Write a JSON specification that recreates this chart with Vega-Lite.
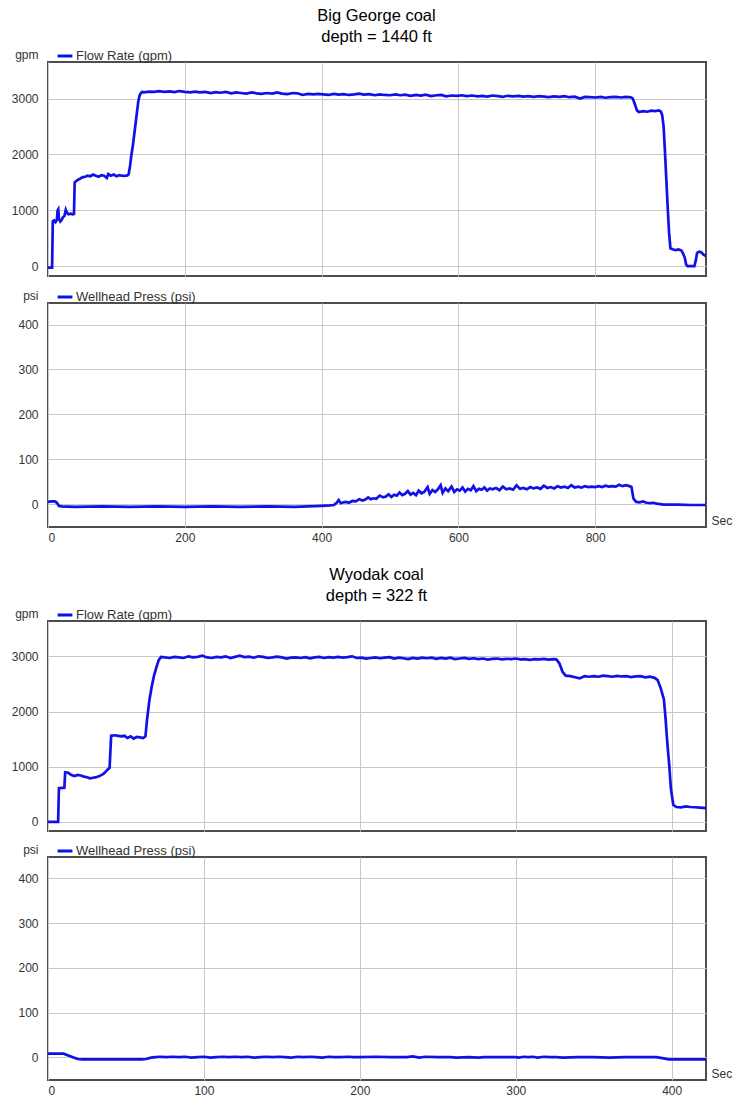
{
  "$schema": "https://vega.github.io/schema/vega-lite/v6.json",
  "padding": {"left": 10, "top": 7, "right": 0, "bottom": 0},
  "background": "white",
  "config": {
    "font": "Liberation Sans",
    "view": {"stroke": "#4d4d4d", "strokeWidth": 2},
    "axis": {
      "labelFont": "Liberation Sans", "labelFontSize": 12, "labelColor": "#333333", "format": "d",
      "gridColor": "#c8c8c8", "gridWidth": 1, "domain": false, "ticks": false,
      "titleFont": "Liberation Sans", "titleFontWeight": "normal", "titleColor": "#333333", "titleFontSize": 12
    },
    "legend": {
      "orient": "none", "padding": 0, "symbolType": "stroke", "symbolStrokeWidth": 3,
      "symbolSize": 220, "labelFont": "Liberation Sans", "labelFontSize": 13, "labelColor": "#333333",
      "labelOffset": 2, "title": null
    },
    "title": {"font": "Liberation Sans", "fontSize": 16.5, "fontWeight": "normal", "color": "#000000", "anchor": "middle", "lineHeight": 21, "offset": 1, "dx": 5}
  },
  "datasets": {
    "bg_flow": [
      {"t":0,"v":-25},{"t":6,"v":-25},{"t":7,"v":800},{"t":9,"v":820},{"t":11,"v":790},{"t":13,"v":830},{"t":14,"v":1000},{"t":15,"v":1020},{"t":16,"v":850},{"t":18,"v":800},{"t":20,"v":830},{"t":22,"v":880},{"t":24,"v":900},{"t":26,"v":1010},{"t":28,"v":950},{"t":30,"v":930},{"t":33,"v":940},{"t":36,"v":930},{"t":38,"v":935},{"t":39,"v":1500},{"t":41,"v":1520},{"t":43,"v":1540},{"t":46,"v":1560},{"t":50,"v":1590},{"t":54,"v":1600},{"t":58,"v":1620},{"t":62,"v":1610},{"t":66,"v":1640},{"t":70,"v":1620},{"t":74,"v":1600},{"t":78,"v":1630},{"t":82,"v":1620},{"t":86,"v":1580},{"t":88,"v":1650},{"t":92,"v":1620},{"t":96,"v":1640},{"t":100,"v":1610},{"t":104,"v":1630},{"t":108,"v":1620},{"t":112,"v":1615},{"t":116,"v":1625},{"t":118,"v":1650},{"t":120,"v":1800},{"t":122,"v":2000},{"t":124,"v":2150},{"t":126,"v":2350},{"t":128,"v":2550},{"t":130,"v":2750},{"t":132,"v":2950},{"t":134,"v":3060},{"t":136,"v":3100},{"t":138,"v":3120},
      {"t":140,"v":3110},{"t":148,"v":3125},{"t":155,"v":3120},{"t":162,"v":3135},{"t":170,"v":3120},{"t":178,"v":3130},{"t":185,"v":3115},{"t":192,"v":3135},{"t":200,"v":3120},{"t":208,"v":3110},{"t":215,"v":3125},{"t":222,"v":3110},{"t":230,"v":3120},{"t":238,"v":3100},{"t":245,"v":3115},{"t":252,"v":3105},{"t":260,"v":3120},{"t":268,"v":3095},{"t":275,"v":3110},{"t":282,"v":3100},{"t":290,"v":3090},{"t":298,"v":3110},{"t":305,"v":3095},{"t":312,"v":3085},{"t":320,"v":3100},{"t":328,"v":3090},{"t":335,"v":3110},{"t":342,"v":3090},{"t":350,"v":3080},{"t":358,"v":3100},{"t":365,"v":3095},{"t":372,"v":3065},{"t":380,"v":3085},{"t":388,"v":3075},{"t":395,"v":3085},{"t":402,"v":3075},{"t":410,"v":3065},{"t":418,"v":3085},{"t":425,"v":3070},{"t":432,"v":3080},{"t":440,"v":3065},{"t":448,"v":3075},{"t":455,"v":3090},{"t":462,"v":3070},{"t":470,"v":3080},{"t":478,"v":3060},{"t":485,"v":3075},{"t":492,"v":3065},{"t":500,"v":3060},{"t":508,"v":3075},{"t":515,"v":3060},{"t":522,"v":3070},{"t":530,"v":3050},{"t":538,"v":3065},{"t":545,"v":3055},{"t":552,"v":3070},{"t":560,"v":3045},{"t":568,"v":3060},{"t":575,"v":3065},{"t":582,"v":3040},{"t":590,"v":3055},{"t":598,"v":3050},{"t":605,"v":3060},{"t":612,"v":3045},{"t":620,"v":3055},{"t":628,"v":3040},{"t":635,"v":3050},{"t":642,"v":3035},{"t":650,"v":3055},{"t":658,"v":3045},{"t":665,"v":3030},{"t":672,"v":3050},{"t":680,"v":3040},{"t":688,"v":3050},{"t":695,"v":3035},{"t":702,"v":3045},{"t":710,"v":3030},{"t":718,"v":3045},{"t":725,"v":3035},{"t":732,"v":3025},{"t":740,"v":3040},{"t":748,"v":3030},{"t":755,"v":3045},{"t":762,"v":3025},{"t":770,"v":3035},{"t":778,"v":3000},{"t":785,"v":3030},{"t":792,"v":3025},{"t":800,"v":3020},{"t":808,"v":3030},{"t":815,"v":3015},{"t":822,"v":3025},{"t":830,"v":3030},{"t":838,"v":3020},{"t":845,"v":3030},{"t":852,"v":3025},
      {"t":855,"v":3000},{"t":858,"v":2900},{"t":861,"v":2790},{"t":864,"v":2760},{"t":870,"v":2775},{"t":876,"v":2765},{"t":882,"v":2785},{"t":888,"v":2775},{"t":893,"v":2790},{"t":896,"v":2770},{"t":898,"v":2700},{"t":900,"v":2500},{"t":902,"v":2050},{"t":904,"v":1550},{"t":906,"v":1050},{"t":908,"v":600},{"t":910,"v":320},{"t":914,"v":300},{"t":918,"v":290},{"t":922,"v":300},{"t":926,"v":280},{"t":928,"v":240},{"t":931,"v":150},{"t":933,"v":30},{"t":935,"v":0},{"t":940,"v":0},{"t":945,"v":0},{"t":947,"v":100},{"t":949,"v":240},{"t":952,"v":260},{"t":955,"v":250},{"t":958,"v":210},{"t":962,"v":180}
    ],
    "bg_press": [
      {"t":0,"v":5},{"t":5,"v":6},{"t":10,"v":6},{"t":13,"v":3},{"t":16,"v":-4},{"t":20,"v":-5},{"t":40,"v":-6},{"t":80,"v":-5},{"t":120,"v":-6},{"t":160,"v":-5},{"t":200,"v":-6},{"t":240,"v":-5},{"t":280,"v":-6},{"t":320,"v":-5},{"t":360,"v":-6},{"t":400,"v":-4},{"t":412,"v":-3},{"t":418,"v":-2},{"t":422,"v":3},{"t":425,"v":9},{"t":428,"v":2},{"t":432,"v":4},{"t":436,"v":5},{"t":440,"v":3},{"t":445,"v":7},{"t":450,"v":6},{"t":455,"v":11},{"t":460,"v":8},{"t":464,"v":10},{"t":468,"v":15},{"t":472,"v":11},{"t":476,"v":13},{"t":480,"v":12},{"t":485,"v":19},{"t":490,"v":15},{"t":494,"v":17},{"t":498,"v":22},{"t":502,"v":16},{"t":506,"v":21},{"t":510,"v":19},{"t":514,"v":26},{"t":518,"v":20},{"t":522,"v":23},{"t":526,"v":29},{"t":530,"v":21},{"t":534,"v":25},{"t":538,"v":20},{"t":542,"v":30},{"t":546,"v":24},{"t":550,"v":27},{"t":555,"v":38},{"t":558,"v":23},{"t":562,"v":31},{"t":566,"v":27},{"t":570,"v":33},{"t":574,"v":42},{"t":577,"v":25},{"t":581,"v":35},{"t":585,"v":29},{"t":590,"v":39},{"t":594,"v":27},{"t":598,"v":33},{"t":602,"v":30},{"t":606,"v":37},{"t":610,"v":28},{"t":614,"v":34},{"t":618,"v":31},{"t":622,"v":40},{"t":626,"v":29},{"t":630,"v":34},{"t":634,"v":32},{"t":638,"v":37},{"t":642,"v":30},{"t":646,"v":35},{"t":650,"v":33},{"t":655,"v":36},{"t":660,"v":31},{"t":665,"v":39},{"t":670,"v":33},{"t":675,"v":35},{"t":680,"v":32},{"t":685,"v":42},{"t":690,"v":34},{"t":695,"v":36},{"t":700,"v":33},{"t":705,"v":38},{"t":710,"v":35},{"t":715,"v":37},{"t":720,"v":34},{"t":725,"v":41},{"t":730,"v":36},{"t":735,"v":38},{"t":740,"v":35},{"t":745,"v":40},{"t":750,"v":37},{"t":755,"v":39},{"t":760,"v":36},{"t":765,"v":42},{"t":770,"v":37},{"t":775,"v":39},{"t":780,"v":37},{"t":785,"v":40},{"t":790,"v":38},{"t":795,"v":39},{"t":800,"v":38},{"t":805,"v":40},{"t":810,"v":38},{"t":815,"v":41},{"t":820,"v":39},{"t":825,"v":40},{"t":830,"v":39},{"t":835,"v":43},{"t":840,"v":40},{"t":845,"v":42},{"t":850,"v":40},{"t":853,"v":38},{"t":856,"v":12},{"t":860,"v":5},{"t":865,"v":4},{"t":870,"v":6},{"t":875,"v":3},{"t":880,"v":2},{"t":885,"v":3},{"t":890,"v":1},{"t":895,"v":0},{"t":900,"v":-1},{"t":920,"v":-1},{"t":940,"v":-2},{"t":962,"v":-2}
    ],
    "wy_flow": [
      {"t":0,"v":0},{"t":6.5,"v":0},{"t":7,"v":610},{"t":10.5,"v":620},{"t":11,"v":900},{"t":13,"v":890},{"t":15,"v":850},{"t":17,"v":830},{"t":19,"v":850},{"t":21,"v":840},{"t":23,"v":820},{"t":25,"v":810},{"t":27,"v":790},{"t":29,"v":800},{"t":31,"v":810},{"t":33,"v":830},{"t":35,"v":860},{"t":36,"v":880},{"t":38,"v":940},{"t":39.5,"v":980},{"t":40.5,"v":1560},{"t":43,"v":1570},{"t":45,"v":1560},{"t":47,"v":1550},{"t":49,"v":1560},{"t":51,"v":1520},{"t":53,"v":1550},{"t":55,"v":1510},{"t":57,"v":1540},{"t":59,"v":1530},{"t":61,"v":1520},{"t":62.5,"v":1550},{"t":63.5,"v":1850},{"t":65,"v":2200},{"t":66.5,"v":2450},{"t":68,"v":2650},{"t":69.5,"v":2800},{"t":71,"v":2930},{"t":72.5,"v":2990},
      {"t":75,"v":2980},{"t":78,"v":2970},{"t":81,"v":2990},{"t":84,"v":2980},{"t":87,"v":2970},{"t":90,"v":3000},{"t":93,"v":2980},{"t":96,"v":2990},{"t":99,"v":3010},{"t":102,"v":2980},{"t":105,"v":2970},{"t":108,"v":2990},{"t":111,"v":2980},{"t":114,"v":3000},{"t":117,"v":2970},{"t":120,"v":2990},{"t":123,"v":3010},{"t":126,"v":2985},{"t":129,"v":2995},{"t":132,"v":2975},{"t":135,"v":3000},{"t":138,"v":2990},{"t":141,"v":2970},{"t":144,"v":2980},{"t":147,"v":2995},{"t":150,"v":2980},{"t":153,"v":2960},{"t":156,"v":2975},{"t":159,"v":2980},{"t":162,"v":2970},{"t":165,"v":2985},{"t":168,"v":2965},{"t":171,"v":2980},{"t":174,"v":2990},{"t":177,"v":2970},{"t":180,"v":2985},{"t":183,"v":2975},{"t":186,"v":2990},{"t":189,"v":2975},{"t":192,"v":2985},{"t":195,"v":3000},{"t":198,"v":2970},{"t":201,"v":2975},{"t":204,"v":2960},{"t":207,"v":2970},{"t":210,"v":2980},{"t":213,"v":2965},{"t":216,"v":2975},{"t":219,"v":2985},{"t":222,"v":2960},{"t":225,"v":2975},{"t":228,"v":2965},{"t":231,"v":2950},{"t":234,"v":2970},{"t":237,"v":2960},{"t":240,"v":2975},{"t":243,"v":2965},{"t":246,"v":2975},{"t":249,"v":2955},{"t":252,"v":2970},{"t":255,"v":2960},{"t":258,"v":2975},{"t":261,"v":2950},{"t":264,"v":2960},{"t":267,"v":2970},{"t":270,"v":2955},{"t":273,"v":2965},{"t":276,"v":2950},{"t":279,"v":2960},{"t":282,"v":2940},{"t":285,"v":2955},{"t":288,"v":2960},{"t":291,"v":2945},{"t":294,"v":2955},{"t":297,"v":2950},{"t":300,"v":2960},{"t":303,"v":2945},{"t":306,"v":2950},{"t":309,"v":2935},{"t":312,"v":2950},{"t":315,"v":2945},{"t":318,"v":2955},{"t":321,"v":2940},{"t":324,"v":2950},{"t":326,"v":2945},
      {"t":328,"v":2870},{"t":330,"v":2720},{"t":332,"v":2650},{"t":335,"v":2640},{"t":338,"v":2620},{"t":341,"v":2600},{"t":344,"v":2640},{"t":347,"v":2630},{"t":350,"v":2640},{"t":353,"v":2630},{"t":356,"v":2650},{"t":359,"v":2640},{"t":362,"v":2630},{"t":365,"v":2645},{"t":368,"v":2635},{"t":371,"v":2640},{"t":374,"v":2625},{"t":377,"v":2635},{"t":380,"v":2640},{"t":383,"v":2620},{"t":386,"v":2630},{"t":389,"v":2610},{"t":391,"v":2570},{"t":393,"v":2420},{"t":395,"v":2220},{"t":396,"v":1900},{"t":397,"v":1500},{"t":398.5,"v":1000},{"t":399.5,"v":600},{"t":401,"v":310},{"t":403,"v":270},{"t":406,"v":265},{"t":409,"v":280},{"t":412,"v":270},{"t":415,"v":265},{"t":418,"v":260},{"t":422,"v":250}
    ],
    "wy_press": [
      {"t":0,"v":8},{"t":5,"v":8},{"t":10,"v":8},{"t":13,"v":4},{"t":16,"v":0},{"t":19,"v":-4},{"t":22,"v":-5},{"t":30,"v":-5},{"t":40,"v":-5},{"t":50,"v":-5},{"t":60,"v":-5},{"t":63,"v":-4},{"t":66,"v":-1},{"t":69,"v":0},{"t":72,"v":1},{"t":76,"v":0},{"t":80,"v":1},{"t":84,"v":0},{"t":88,"v":1},{"t":92,"v":-1},{"t":96,"v":0},{"t":100,"v":1},{"t":104,"v":-1},{"t":108,"v":0},{"t":112,"v":1},{"t":116,"v":0},{"t":120,"v":1},{"t":124,"v":0},{"t":128,"v":1},{"t":132,"v":-1},{"t":136,"v":0},{"t":140,"v":1},{"t":144,"v":0},{"t":148,"v":1},{"t":152,"v":0},{"t":156,"v":-1},{"t":160,"v":1},{"t":164,"v":0},{"t":168,"v":1},{"t":172,"v":0},{"t":176,"v":-1},{"t":180,"v":1},{"t":184,"v":0},{"t":188,"v":0},{"t":192,"v":1},{"t":196,"v":0},{"t":200,"v":0},{"t":210,"v":1},{"t":220,"v":0},{"t":230,"v":0},{"t":234,"v":2},{"t":238,"v":-1},{"t":242,"v":1},{"t":250,"v":0},{"t":258,"v":0},{"t":262,"v":-1},{"t":270,"v":0},{"t":276,"v":-1},{"t":280,"v":0},{"t":290,"v":0},{"t":300,"v":0},{"t":302,"v":-1},{"t":305,"v":1},{"t":308,"v":0},{"t":311,"v":1},{"t":314,"v":-1},{"t":318,"v":1},{"t":322,"v":0},{"t":326,"v":0},{"t":330,"v":-1},{"t":340,"v":0},{"t":350,"v":0},{"t":360,"v":-1},{"t":370,"v":0},{"t":380,"v":0},{"t":390,"v":0},{"t":394,"v":-2},{"t":398,"v":-5},{"t":405,"v":-5},{"t":415,"v":-5},{"t":422,"v":-5}
    ]
  },
  "spacing": 22,
  "resolve": {"scale": {"color": "independent"}, "legend": {"color": "independent"}},
  "vconcat": [
    {
      "title": {"text": ["Big George coal", "depth = 1440 ft"]},
      "spacing": 27,
      "bounds": "flush",
      "resolve": {"scale": {"color": "independent"}, "legend": {"color": "independent"}},
      "vconcat": [
        {
          "width": 658, "height": 214,
          "data": {"name": "bg_flow"},
          "mark": {"type": "line", "strokeWidth": 2.7, "clip": true},
          "encoding": {
            "x": {"field": "t", "type": "quantitative", "scale": {"domain": [0, 962], "nice": false, "zero": false},
                  "axis": {"values": [0, 200, 400, 600, 800], "labels": false, "title": null}},
            "y": {"field": "v", "type": "quantitative", "scale": {"domain": [-175, 3655], "nice": false, "zero": false},
                  "axis": {"values": [0, 1000, 2000, 3000], "labelPadding": 10, "title": "gpm", "titleAngle": 0, "titleAlign": "right", "titleBaseline": "middle", "titleX": -10, "titleY": -8}},
            "color": {"datum": "Flow Rate (gpm)", "type": "nominal", "scale": {"range": ["#1010e8"]},
                      "legend": {"legendX": 8, "legendY": -15}}
          }
        },
        {
          "width": 658, "height": 224,
          "data": {"name": "bg_press"},
          "mark": {"type": "line", "strokeWidth": 2.7, "clip": true},
          "encoding": {
            "x": {"field": "t", "type": "quantitative", "scale": {"domain": [0, 962], "nice": false, "zero": false},
                  "axis": {"values": [0, 200, 400, 600, 800], "labelPadding": 5, "title": "Sec", "titleX": 663, "titleY": -7, "titleAlign": "left", "titleBaseline": "middle"}},
            "y": {"field": "v", "type": "quantitative", "scale": {"domain": [-51, 448], "nice": false, "zero": false},
                  "axis": {"values": [0, 100, 200, 300, 400], "labelPadding": 10, "title": "psi", "titleAngle": 0, "titleAlign": "right", "titleBaseline": "middle", "titleX": -10, "titleY": -8}},
            "color": {"datum": "Wellhead Press (psi)", "type": "nominal", "scale": {"range": ["#1010e8"]},
                      "legend": {"legendX": 8, "legendY": -15}}
          }
        }
      ]
    },
    {
      "title": {"text": ["Wyodak coal", "depth = 322 ft"]},
      "spacing": 26,
      "bounds": "flush",
      "resolve": {"scale": {"color": "independent"}, "legend": {"color": "independent"}},
      "vconcat": [
        {
          "width": 658, "height": 210,
          "data": {"name": "wy_flow"},
          "mark": {"type": "line", "strokeWidth": 2.7, "clip": true},
          "encoding": {
            "x": {"field": "t", "type": "quantitative", "scale": {"domain": [0, 422], "nice": false, "zero": false},
                  "axis": {"values": [0, 100, 200, 300, 400], "labels": false, "title": null}},
            "y": {"field": "v", "type": "quantitative", "scale": {"domain": [-165, 3640], "nice": false, "zero": false},
                  "axis": {"values": [0, 1000, 2000, 3000], "labelPadding": 10, "title": "gpm", "titleAngle": 0, "titleAlign": "right", "titleBaseline": "middle", "titleX": -10, "titleY": -8}},
            "color": {"datum": "Flow Rate (gpm)", "type": "nominal", "scale": {"range": ["#1010e8"]},
                      "legend": {"legendX": 8, "legendY": -15}}
          }
        },
        {
          "width": 658, "height": 223,
          "data": {"name": "wy_press"},
          "mark": {"type": "line", "strokeWidth": 2.7, "clip": true},
          "encoding": {
            "x": {"field": "t", "type": "quantitative", "scale": {"domain": [0, 422], "nice": false, "zero": false},
                  "axis": {"values": [0, 100, 200, 300, 400], "labelPadding": 5, "title": "Sec", "titleX": 663, "titleY": -7, "titleAlign": "left", "titleBaseline": "middle"}},
            "y": {"field": "v", "type": "quantitative", "scale": {"domain": [-51, 448], "nice": false, "zero": false},
                  "axis": {"values": [0, 100, 200, 300, 400], "labelPadding": 10, "title": "psi", "titleAngle": 0, "titleAlign": "right", "titleBaseline": "middle", "titleX": -10, "titleY": -8}},
            "color": {"datum": "Wellhead Press (psi)", "type": "nominal", "scale": {"range": ["#1010e8"]},
                      "legend": {"legendX": 8, "legendY": -15}}
          }
        }
      ]
    }
  ]
}
